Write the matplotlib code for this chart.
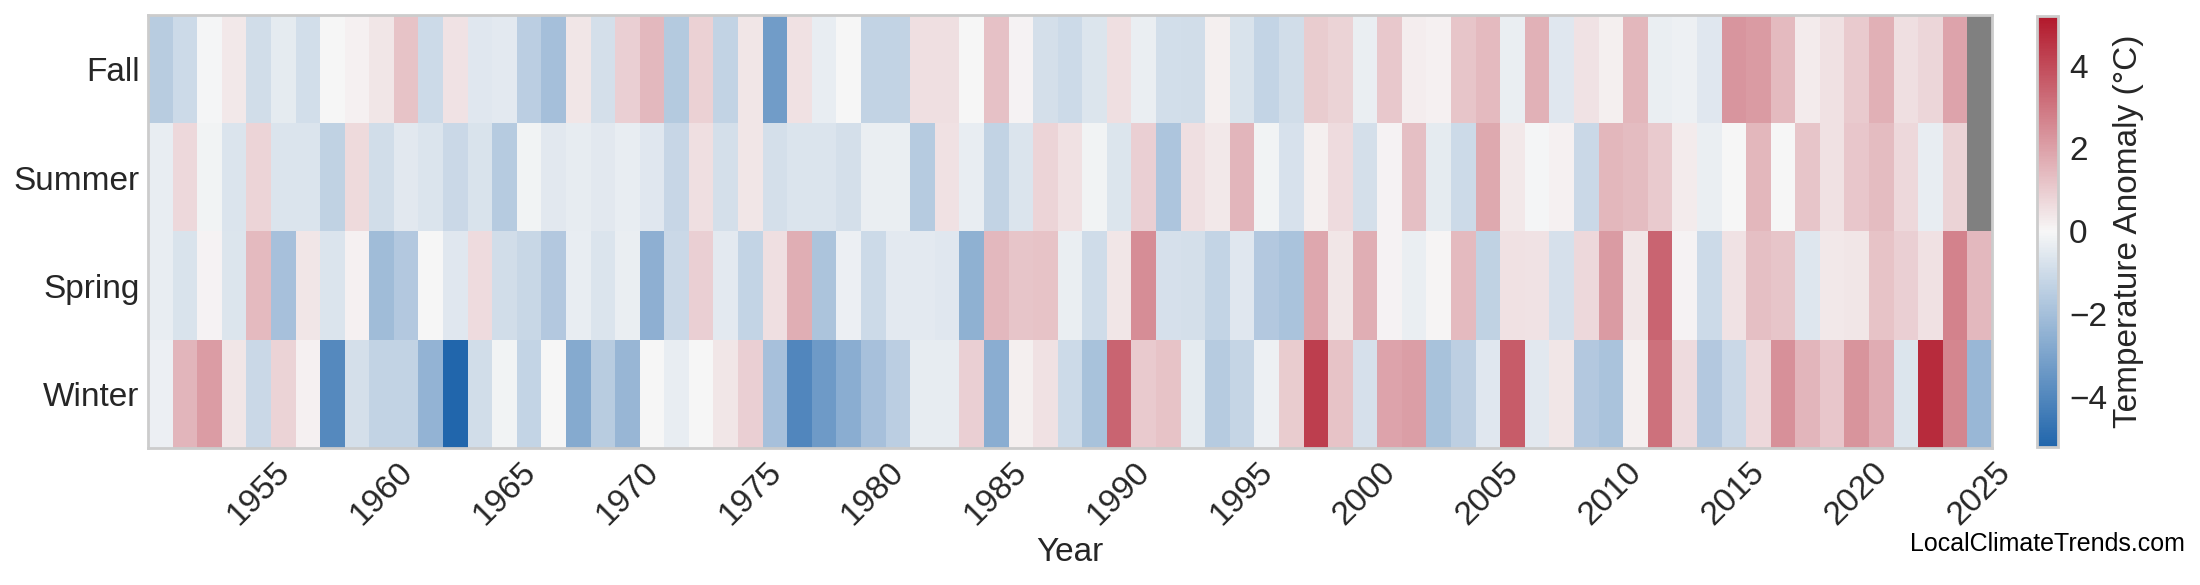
import numpy as np
import matplotlib
matplotlib.use("Agg")
import matplotlib.pyplot as plt
from matplotlib.colors import LinearSegmentedColormap

plt.rcParams['font.family'] = ['Liberation Sans', 'DejaVu Sans']

years = list(range(1951, 2026))
seasons = ["Fall", "Summer", "Spring", "Winter"]

fall = [-1.53, -1.04, -0.05, 0.35, -0.90, -0.41, -0.87, 0.0, 0.14, 0.40,
        1.21, -1.02, 0.47, -0.53, -0.46, -1.46, -1.99, 0.37, -0.85, 0.93,
        1.45, -1.60, 0.89, -1.26, 0.37, -3.21, 0.49, -0.36, 0.0, -1.26,
        -1.26, 0.54, 0.54, 0.02, 1.24, 0.10, -0.85, -1.04, -0.63, 0.54,
        -0.32, -0.87, -0.92, 0.19, -0.73, -1.22, -0.92, 0.98, 0.84, -0.29,
        1.07, 0.21, 0.16, 1.17, 1.40, -0.29, 1.59, -0.53, 0.47, 0.19,
        1.49, -0.32, -0.22, -0.56, 2.26, 2.12, 1.40, 0.26, 0.49, 1.05,
        1.66, 0.54, 0.77, 1.91, np.nan]

summer = [-0.34, 0.72, -0.15, -0.68, 0.79, -0.66, -0.66, -1.31, 0.68, -0.90,
          -0.51, -0.66, -1.07, -0.73, -1.56, -0.15, -0.49, -0.39, -0.49, -0.36,
          -0.53, -1.17, 0.56, -0.83, 0.37, -0.83, -0.68, -0.68, -0.83, -0.29,
          -0.29, -1.56, 0.49, -0.36, -1.29, -0.68, 0.79, 0.49, -0.15, -0.63,
          0.91, -1.75, 0.54, 0.33, 1.52, -0.15, -0.75, 0.19, 0.61, -0.83,
          0.12, 1.28, -0.44, -1.04, 1.80, 0.35, -0.08, 0.16, -1.07, 1.49,
          1.38, 1.05, 0.28, -0.29, -0.03, 1.49, 0.03, 1.14, 0.49, 1.12,
          1.38, 0.72, -0.34, 0.84, np.nan]

spring = [-0.34, -0.73, 0.12, -0.63, 1.40, -1.94, 0.40, -0.66, 0.14, -2.09,
          -1.63, 0.0, -0.53, 0.63, -0.90, -1.12, -1.63, -0.36, -0.66, -0.29,
          -2.55, -1.09, 0.93, -0.46, -1.24, 0.54, 1.70, -1.80, -0.27, -1.04,
          -0.46, -0.46, -0.53, -2.48, 1.45, 1.17, 1.21, -0.29, -0.97, 0.40,
          2.47, -0.78, -0.83, -1.24, -0.53, -1.65, -1.85, 1.84, 0.40, 1.70,
          0.12, -0.32, 0.07, 1.40, -1.31, 0.49, 0.47, -0.78, 0.72, 2.15,
          0.40, 3.40, 0.12, -1.04, 0.47, 1.28, 1.14, -0.58, 0.33, 0.40,
          1.19, 0.93, 0.49, 2.70, 1.45]

winter = [-0.27, 1.54, 2.10, 0.40, -1.09, 0.84, 0.16, -3.91, -0.83, -1.29,
          -1.29, -2.43, -5.20, -0.90, -0.15, -1.24, -0.03, -2.75, -1.51, -2.31,
          0.0, -0.36, 0.0, 0.40, 0.91, -1.92, -4.01, -3.30, -2.62, -1.92,
          -1.43, -0.39, -0.39, 0.91, -2.62, 0.19, 0.51, -1.02, -1.90, 3.38,
          1.05, 1.21, -0.44, -1.58, -1.19, -0.22, 0.98, 4.27, 1.19, -0.78,
          1.91, 2.05, -1.90, -1.41, -0.56, 3.59, -0.51, 0.40, -1.63, -1.85,
          0.19, 3.12, 0.63, -1.63, -1.07, 0.72, 2.38, 1.54, 1.12, 2.31,
          1.73, -0.61, 4.73, 2.61, -2.26]

data = np.array([fall, summer, spring, winter])
vmax = np.nanmax(np.abs(data))

cmap = LinearSegmentedColormap.from_list("anom", ["#2166ac", "#f7f7f7", "#b2182b"])
cmap.set_bad("#808080")

fig = plt.figure(figsize=(11, 2.925), dpi=200)
ax = fig.add_axes([0.0673, 0.234, 0.838, 0.740])
im = ax.imshow(np.ma.masked_invalid(data), cmap=cmap, vmin=-vmax, vmax=vmax,
               aspect="auto", interpolation="nearest",
               extent=[years[0] - 0.5, years[-1] + 0.5, len(seasons) - 0.5, -0.5])

ax.set_yticks(range(len(seasons)))
ax.set_yticklabels(seasons, fontsize=12, color="#262626")
xt = [y for y in years if y % 5 == 0]
ax.set_xticks(xt)
ax.set_xticklabels([str(y) for y in xt], rotation=45, fontsize=12, color="#262626")
ax.tick_params(length=0, pad=3)
ax.set_xlabel("Year", fontsize=12, color="#262626", labelpad=2)
for s in ax.spines.values():
    s.set_color("#cccccc")
    s.set_linewidth(1.0)

cax = fig.add_axes([0.9259, 0.236, 0.0095, 0.737])
cb = fig.colorbar(im, cax=cax)
cb.outline.set_edgecolor("#cccccc")
cb.outline.set_linewidth(1.0)
cb.set_ticks([-4, -2, 0, 2, 4])
cax.tick_params(length=0, labelsize=12, labelcolor="#262626", pad=4)
cb.set_label("Temperature Anomaly (°C)", fontsize=12, color="#262626", labelpad=2)

fig.text(0.993, 0.05, "LocalClimateTrends.com", ha="right", va="bottom", fontsize=9)

fig.savefig("out.png", dpi=200)
